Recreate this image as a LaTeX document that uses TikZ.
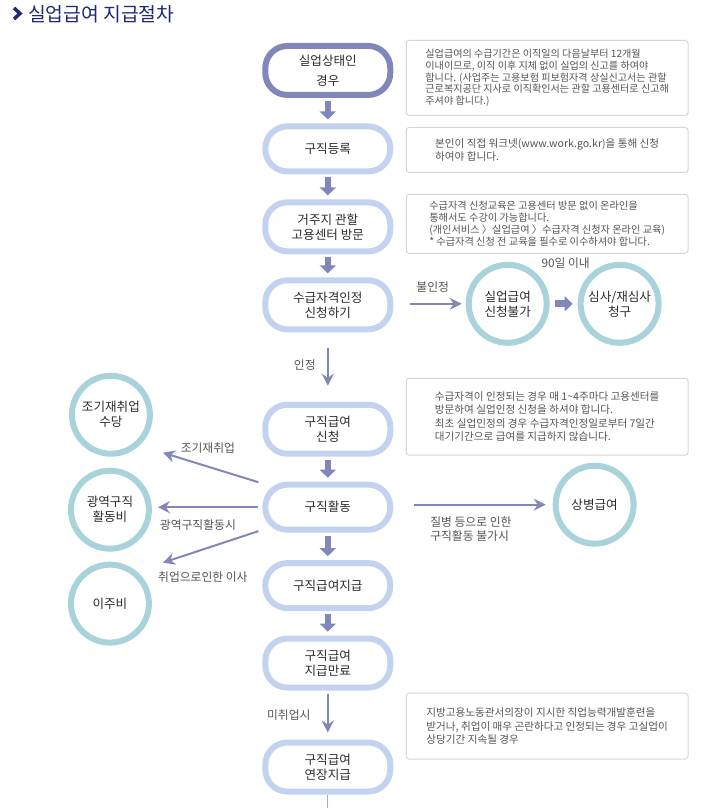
\documentclass[tikz,border=0pt]{standalone}
\usepackage{fontspec}
\setmainfont{Noto Sans CJK KR}
\usetikzlibrary{arrows.meta,positioning}

\definecolor{navy}{HTML}{1E2A78}
\definecolor{purp}{HTML}{8188B9}
\definecolor{lblue}{HTML}{C3D3EF}
\definecolor{cteal}{HTML}{A8D3DA}
\definecolor{boxgray}{HTML}{D6D6D6}
\definecolor{darktext}{HTML}{2B2B2B}
\definecolor{graytext}{HTML}{555555}

\tikzset{
  stepbox/.style={draw=lblue, line width=6pt, rounded corners=22pt,
    minimum width=125pt, minimum height=49pt, align=center,
    text=darktext, font=\fontsize{12.6}{15}\selectfont},
  onebox/.style={stepbox, minimum height=45pt},
  roundnode/.style={circle, draw=cteal, line width=6pt, minimum size=78pt,
    inner sep=0pt, align=center, text=darktext, font=\fontsize{12.6}{15}\selectfont},
  notebox/.style={draw=boxgray, line width=1pt, rounded corners=3pt,
    anchor=north west, minimum width=282pt, align=left, text=graytext,
    font=\fontsize{10.6}{13.5}\selectfont},
  lbl/.style={text=graytext, font=\fontsize{11.8}{14}\selectfont},
  fatarrow/.style={draw=purp, line width=6.5pt, -{Triangle[width=16pt,length=8pt]},
    shorten <=3pt, shorten >=4pt},
  thinarrow/.style={draw=purp, line width=2pt, -{Stealth[length=12pt,width=12pt,inset=4pt]}}
}

\begin{document}
\begin{tikzpicture}[x=1pt, y=-1pt]
    % Canvas
    \path[fill=white] (0,0) rectangle (718,808);

    % Title
    \draw[navy, line width=3.5pt] (14,8) -- (20,13.5) -- (14,19);
    \node[anchor=west, inner sep=0pt, text=navy, font=\fontsize{19.3}{21}\selectfont] (title) at (28,14) {실업급여 지급절차};

    % Steps
    \node[stepbox, draw=purp, font=\fontsize{12.6}{20}\selectfont] (s1) at (328,70.5) {실업상태인\\경우};
    \node[onebox] (s2) at (328,149) {구직등록};
    \node[stepbox] (s3) at (328,227) {거주지 관할\\고용센터 방문};
    \node[stepbox] (s4) at (328,305) {수급자격인정\\신청하기};
    \node[stepbox] (s5) at (328,429.5) {구직급여\\신청};
    \node[onebox] (s6) at (328,507.5) {구직활동};
    \node[onebox] (s7) at (328,586) {구직급여지급};
    \node[stepbox] (s8) at (328,663.5) {구직급여\\지급만료};
    \node[stepbox] (s9) at (328,767.5) {구직급여\\연장지급};

    % Notes
    \node[notebox, minimum height=75pt, font=\fontsize{10.1}{11.6}\selectfont] (t1) at (406,40) {실업급여의 수급기간은 이직일의 다음날부터 12개월\\이내이므로, 이직 이후 지체 없이 실업의 신고를 하여야\\합니다. (사업주는 고용보험 피보험자격 상실신고서는 관할\\근로복지공단 지사로 이직확인서는 관할 고용센터로 신고해\\주셔야 합니다.)};
    \node[notebox, minimum height=45pt] (t2) at (406,127) {본인이 직접 워크넷(www.work.go.kr)을 통해 신청\\하여야 합니다.};
    \node[notebox, minimum height=59pt, font=\fontsize{10.2}{12}\selectfont] (t3) at (406,194) {수급자격 신청교육은 고용센터 방문 없이 온라인을\\통해서도 수강이 가능합니다.\\(개인서비스 〉실업급여 〉수급자격 신청자 온라인 교육)\\* 수급자격 신청 전 교육을 필수로 이수하셔야 합니다.};
    \node[notebox, minimum height=77pt] (t4) at (406,378) {수급자격이 인정되는 경우 매 1\textasciitilde 4주마다 고용센터를\\방문하여 실업인정 신청을 하셔야 합니다.\\최초 실업인정의 경우 수급자격인정일로부터 7일간\\대기기간으로 급여를 지급하지 않습니다.};
    \node[notebox, minimum height=66pt] (t5) at (406,693) {지방고용노동관서의장이 지시한 직업능력개발훈련을\\받거나, 취업이 매우 곤란하다고 인정되는 경우 고실업이\\상당기간 지속될 경우};

    % Circles
    \node[roundnode] (r1) at (508,304) {실업급여\\신청불가};
    \node[roundnode] (r2) at (620,304) {심사/재심사\\청구};
    \node[roundnode] (r3) at (595,505) {상병급여};
    \node[roundnode] (l1) at (111,415) {조기재취업\\수당};
    \node[roundnode] (l2) at (110,510) {광역구직\\활동비};
    \node[roundnode] (l3) at (110,604) {이주비};

    % Labels
    \node[lbl] (no) at (433,287) {불인정};
    \node[lbl] (yes) at (305,365) {인정};
    \node[lbl] (d90) at (566,263) {90일 이내};
    \node[lbl] (early) at (208,448) {조기재취업};
    \node[lbl] (wide) at (198,525) {광역구직활동시};
    \node[lbl] (move) at (203,577) {취업으로인한 이사};
    \node[lbl, anchor=west, align=left] (sick) at (427,529) {질병 등으로 인한\\구직활동 불가시};
    \node[lbl] (nojob) at (289,716) {미취업시};

    % Free ends
    \coordinate (e1) at (163,453);
    \coordinate (e3) at (163,563);
    \coordinate (bottom) at (328,808);

    % Arrows
    \draw[fatarrow] (s1) -- (s2);
    \draw[fatarrow] (s2) -- (s3);
    \draw[fatarrow] (s3) -- (s4);
    \draw[fatarrow] (s5) -- (s6);
    \draw[fatarrow] (s6) -- (s7);
    \draw[fatarrow] (s7) -- (s8);
    \draw[fatarrow, line width=7pt, -{Triangle[width=15pt,length=8pt]}, shorten <=5pt, shorten >=5pt] (r1) -- (r2);
    \draw[thinarrow, shorten <=16pt, shorten >=16pt] (s4) -- (s5);
    \draw[thinarrow, shorten <=17pt, shorten >=4pt] (s4.east |- r1.west) -- (r1.west);
    \draw[thinarrow, shorten <=21pt, shorten >=7pt] (s6.east |- r3.west) -- (r3.west);
    \draw[thinarrow] ([xshift=-4pt,yshift=25pt]s6.west) -- (e1);
    \draw[thinarrow, shorten <=4pt, shorten >=6pt] (s6.west) -- (s6.west -| l2.east);
    \draw[thinarrow] ([xshift=-4pt,yshift=-24pt]s6.west) -- (e3);
    \draw[thinarrow, shorten <=3pt, shorten >=7pt] (s8) -- (s9);
    \draw[purp!70, line width=1pt] (s9) -- (bottom);
\end{tikzpicture}
\end{document}
